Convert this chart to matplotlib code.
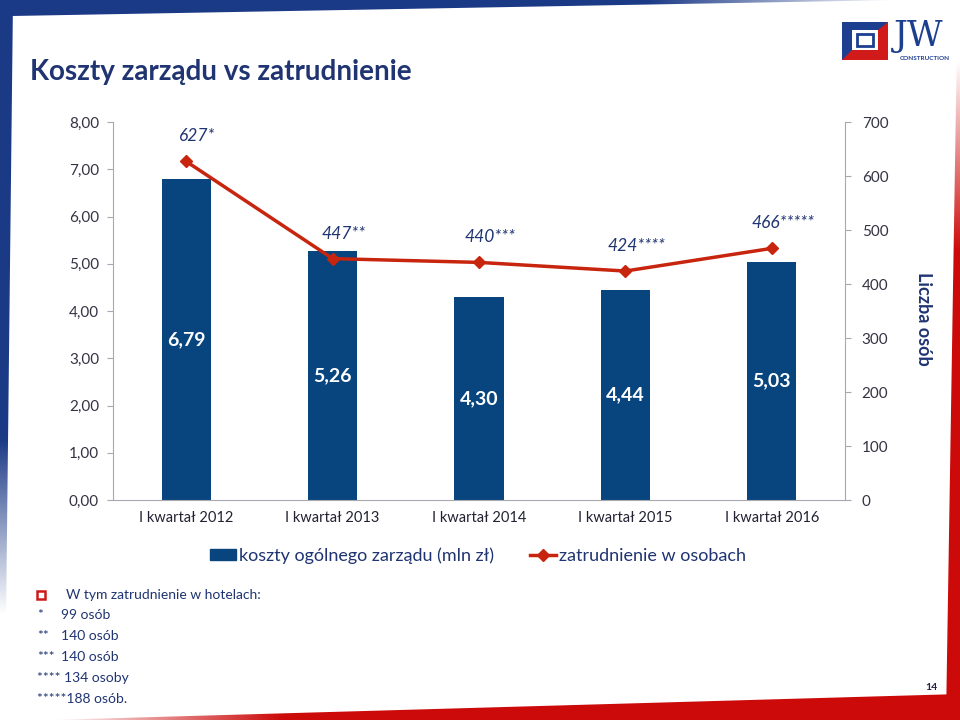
import matplotlib.pyplot as plt
import numpy as np
from matplotlib.lines import Line2D
from matplotlib.patches import Patch, Polygon, Rectangle

plt.rcParams["font.family"] = ["Lato", "DejaVu Sans"]

# dane
quarters = ["I kwartał 2012", "I kwartał 2013", "I kwartał 2014", "I kwartał 2015", "I kwartał 2016"]
costs = [6.79, 5.26, 4.30, 4.44, 5.03]
headcount = [627, 447, 440, 424, 466]
headcount_labels = ["627*", "447**", "440***", "424****", "466*****"]
hotel_marks = ["*", "**", "***", "****", "*****"]
hotel_counts = ["99 osób", "140 osób", "140 osób", "134 osoby", "188 osób."]

BAR = "#08457e"
RED = "#c8250f"
NAVY = "#1f3471"
TICK = "#333344"
SPINE = "#a8a8b0"

fig = plt.figure(figsize=(9.6, 7.2), dpi=100)

# tło: ramka slajdu (piksele)
bg = fig.add_axes([0, 0, 1, 1], zorder=-5)
bg.set_xlim(0, 960)
bg.set_ylim(720, 0)
bg.axis("off")


def gradient_band(pts, color, fade_axis, f0, f1):
    poly = Polygon(pts, closed=True, facecolor="none", edgecolor="none")
    bg.add_patch(poly)
    n = 256
    rgba = np.zeros((n, n, 4))
    rgba[..., :3] = plt.matplotlib.colors.to_rgb(color)
    if fade_axis == "x":
        coord = np.linspace(0, 960, n)[None, :].repeat(n, 0)
    else:
        coord = np.linspace(0, 720, n)[:, None].repeat(n, 1)
    rgba[..., 3] = np.clip((coord - f0) / (f1 - f0), 0, 1)
    im = bg.imshow(rgba, extent=(0, 960, 720, 0), origin="upper", aspect="auto", zorder=0)
    im.set_clip_path(poly)


gradient_band([(0, 0), (900, 0), (12, 16), (0, 16)], "#1b3a86", "x", 900, 650)
gradient_band([(0, 0), (13, 0), (6, 620), (0, 620)], "#1b3a86", "y", 615, 440)
gradient_band([(957, 40), (960, 40), (960, 720), (946, 720)], "#cc0a0a", "y", 60, 250)
gradient_band([(50, 720), (960, 694), (960, 720)], "#cc0a0a", "x", 50, 280)
bg.set_xlim(0, 960)
bg.set_ylim(720, 0)

# logo
bg.add_patch(Rectangle((842, 22), 46, 38, facecolor="#1d3f8f", zorder=2))
bg.add_patch(Polygon([(888, 22), (888, 60), (842, 60), (852, 50), (878, 50), (878, 30)],
                     facecolor="#d11a1a", zorder=3))
bg.add_patch(Rectangle((852, 30), 26, 20, facecolor="white", zorder=4))
bg.add_patch(Rectangle((857, 34), 16, 12, facecolor="white", edgecolor="#1d3f8f", lw=2, zorder=5))
bg.text(919, 36, "JW", fontsize=25, family="DejaVu Serif", color="#1d3f8f",
        ha="center", va="center", zorder=3)
bg.text(925, 59, "CONSTRUCTION", fontsize=4.6, fontweight="bold", color="#1d3f8f",
        ha="center", va="center", zorder=3)

# tytuł
fig.text(30 / 960, 1 - 72 / 720, "Koszty zarządu vs zatrudnienie", fontsize=20,
         fontweight="bold", color=NAVY, va="center", ha="left")

# wykres
ax = fig.add_axes([113 / 960, 1 - 500 / 720, (845 - 113) / 960, 378 / 720])
x = np.arange(len(quarters))
bars = ax.bar(x, costs, width=0.335, color=BAR, zorder=2)
for b, v in zip(bars, costs):
    ax.text(b.get_x() + b.get_width() / 2, v / 2, f"{v:.2f}".replace(".", ","),
            ha="center", va="center", color="white", fontsize=14, fontweight="bold", zorder=3)

ax.set_xlim(-0.5, len(quarters) - 0.5)
ax.set_ylim(0, 8)
ax.set_yticks(np.arange(0, 9, 1))
ax.set_yticklabels([f"{v:.2f}".replace(".", ",") for v in np.arange(0, 9, 1)])
ax.set_xticks(x)
ax.set_xticklabels(quarters)
ax.tick_params(axis="y", length=4, color=SPINE, labelsize=11, labelcolor=TICK, pad=6)
ax.tick_params(axis="x", length=0, labelsize=10.5, labelcolor="#222233", pad=8)
for s in ["top", "right"]:
    ax.spines[s].set_visible(False)
for s in ["left", "bottom"]:
    ax.spines[s].set_color(SPINE)

ax2 = ax.twinx()
ax2.plot(x, headcount, color=RED, lw=2.5, marker="D", markersize=6.5, zorder=4)
for xi, v, lab in zip(x, headcount, headcount_labels):
    ax2.annotate(lab, (xi, v), textcoords="offset points", xytext=(8, 18),
                 ha="center", va="center", fontsize=12.5, style="italic", color=NAVY)
ax2.set_ylim(0, 700)
ax2.set_yticks(np.arange(0, 701, 100))
ax2.tick_params(axis="y", length=4, color=SPINE, labelsize=11, labelcolor=TICK, pad=8)
for s in ["top", "left", "bottom"]:
    ax2.spines[s].set_visible(False)
ax2.spines["right"].set_color(SPINE)
ax2.set_ylabel("Liczba osób", rotation=-90, fontsize=13, fontweight="bold",
               color=NAVY, va="bottom")
ax2.yaxis.set_label_coords(1.095, 0.48)

# legenda
handles = [
    Patch(facecolor=BAR, edgecolor=BAR),
    Line2D([0], [0], color=RED, lw=2.5, marker="D", markersize=6),
]
fig.legend(handles, ["koszty ogólnego zarządu (mln zł)", "zatrudnienie w osobach"],
           loc="center", bbox_to_anchor=(478 / 960, 1 - 556 / 720), ncol=2,
           frameon=False, fontsize=13, handlelength=1.45, handleheight=0.55,
           handletextpad=0.15, columnspacing=2.0, labelcolor=NAVY)

# przypisy
bg.add_patch(Rectangle((37, 591), 8, 8, facecolor="white", edgecolor="#cc1a1a", lw=1.8, zorder=3))
bg.text(66, 595, "W tym zatrudnienie w hotelach:", fontsize=10, color=NAVY, va="center")
for i, (m, c) in enumerate(zip(hotel_marks, hotel_counts)):
    yy = 615 + i * 21
    if len(m) <= 3:
        bg.text(37, yy, m, fontsize=10, color=NAVY, va="center")
        bg.text(61, yy, c, fontsize=10, color=NAVY, va="center")
    else:
        sep = " " if len(m) == 4 else ""
        bg.text(37, yy, m + sep + c, fontsize=10, color=NAVY, va="center")

bg.text(931, 688, "14", fontsize=7.5, fontweight="bold", color="#222244", ha="center", va="center")

fig.savefig("out.png", dpi=100)
